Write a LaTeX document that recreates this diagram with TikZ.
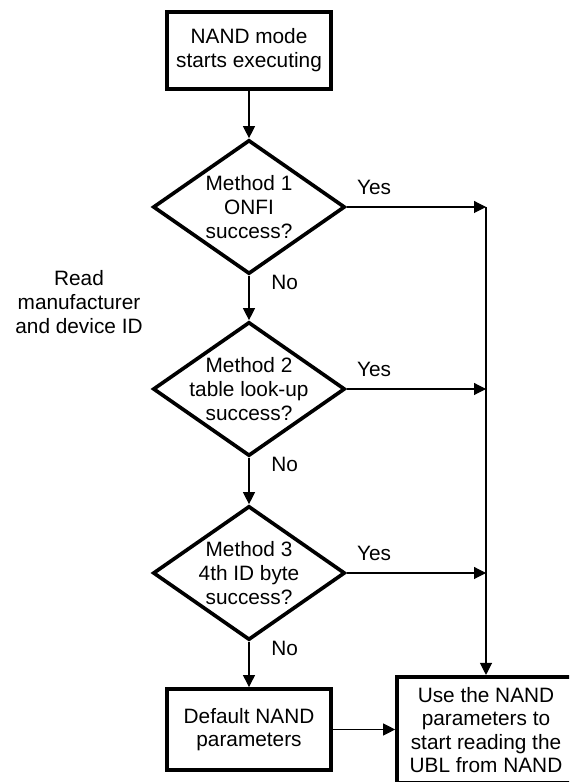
\documentclass[tikz,border=0pt]{standalone}
\usepackage{fontspec}
\setsansfont{Liberation Sans}
\usetikzlibrary{shapes.geometric,arrows.meta}

\begin{document}
\begin{tikzpicture}[
    >={Triangle[length=3mm,width=3mm]},
    font=\sffamily\fontsize{14.8}{16.8}\selectfont,
    block/.style={draw, line width=2.6pt, minimum width=4.1cm, minimum height=1.95cm, align=center},
    decision/.style={draw, diamond, line width=2.6pt, minimum width=4.8cm, minimum height=3.35cm,
                     inner xsep=-1.6cm, inner ysep=-1cm, align=center},
    line/.style={->, line width=0.8pt},
    lbl/.style={inner sep=0pt, anchor=base west}
    ]

\useasboundingbox (0,0) rectangle (14.225,19.55);
\clip (0,0) rectangle (14.225,19.55);

% Main column (fixed coordinates)
\node[block, minimum height=1.93cm] (start) at (6.225,18.29) {NAND mode\\starts executing};
\node[decision] (onfi)   at (6.225,14.375) {Method 1\\ONFI\\success?};
\node[decision] (table)  at (6.225,9.825)  {Method 2\\table look-up\\success?};
\node[decision] (idbyte) at (6.225,5.225)  {Method 3\\4th ID byte\\success?};
\node[block, minimum height=2.03cm] (default) at (6.225,1.3125) {Default NAND\\parameters};
\node[block, minimum width=4.45cm, minimum height=2.66cm] (use) at (12.15,1.3)
    {Use the NAND\\parameters to\\start reading the\\UBL from NAND};

\node[align=center] (readid) at (1.975,12.0) {Read\\manufacturer\\and device ID};

% Join points on the Yes rail
\coordinate (j1) at (use.north |- onfi.east);
\coordinate (j2) at (use.north |- table.east);
\coordinate (j3) at (use.north |- idbyte.east);

% No path down the column
\draw[line] (start.south)  -- (onfi.north);
\draw[line] (onfi.south)   -- (table.north);
\draw[line] (table.south)  -- (idbyte.north);
\draw[line] (idbyte.south) -- (default.north);
\draw[line] (default.east) -- (default.east -| use.west);

% Yes branches
\draw[line] (onfi.east)   -- (j1);
\draw[line] (table.east)  -- (j2);
\draw[line] (idbyte.east) -- (j3);
\draw[line] (j1) -- (use.north);

\node[lbl] (yes1) at ([shift={(0.25,0.3)}]onfi.east)   {Yes};
\node[lbl] (yes2) at ([shift={(0.25,0.3)}]table.east)  {Yes};
\node[lbl] (yes3) at ([shift={(0.25,0.3)}]idbyte.east) {Yes};
\node[lbl] (no1) at ([shift={(0.55,-0.35)}]onfi.south)   {No};
\node[lbl] (no2) at ([shift={(0.55,-0.35)}]table.south)  {No};
\node[lbl] (no3) at ([shift={(0.55,-0.35)}]idbyte.south) {No};

\end{tikzpicture}
\end{document}
